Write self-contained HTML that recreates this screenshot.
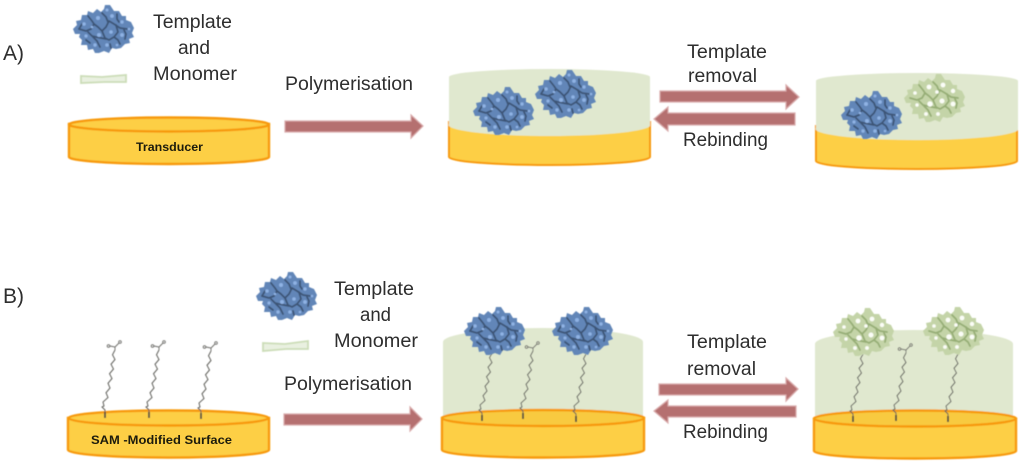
<!DOCTYPE html>
<html><head><meta charset="utf-8"><style>
html,body{margin:0;padding:0;background:#fff;width:1024px;height:465px;overflow:hidden}
svg{display:block}
text{font-family:"Liberation Sans",sans-serif;fill:#2e2e2e;font-size:19px}
</style></head><body>
<svg width="1024" height="465" viewBox="0 0 1024 465" xmlns="http://www.w3.org/2000/svg">
<defs>
<filter id="b" x="-10%" y="-10%" width="120%" height="120%"><feGaussianBlur stdDeviation="0.45"/></filter>
<filter id="t" x="-5%" y="-20%" width="110%" height="140%"><feGaussianBlur stdDeviation="0.3"/></filter>
<filter id="p" x="-10%" y="-10%" width="120%" height="120%"><feGaussianBlur stdDeviation="0.6"/></filter>
<path id="blob" d="M0 25 L4 21 L3 17 L8 16 L9 11 L14 11 L15 7 L20 9 L24 5 L28 8 L31 5 L32 1 L37 1 L41 7 L46 7 L49 12 L53 12 L53 16 L58 18 L61 24 L59 29 L61 33 L56 35 L57 39 L52 40 L48 44 L43 45 L39 44 L36 49 L31 47 L26 49 L22 49 L20 45 L15 46 L14 41 L8 41 L9 36 L6 33 L7 30 L2 30 Z"/>
<g id="pb" filter="url(#p)">
<use href="#blob" fill="#6286b8"/>
<g fill="none" stroke="#3c5476" stroke-width="1.800" stroke-linecap="round" stroke-linejoin="round">
<path d="M6 25 L13 27 L18 25 L21 20 L25 23 L29 27 L33 23 L36 17 L41 20 L47 24 L54 25"/>
<path d="M15 12 L19 17 L21 20 M29 9 L33 13 L35 18 M43 21 L45 28 L41 33 L36 36 L32 34 L29 27 M20 33 L24 37 L27 43 M15 28 L19 32 L23 33 L33 35 M41 33 L45 36 L47 40 M51 26 L53 30 L52 35 M13 36 L17 39 M37 40 L38 44 M44 10 L44 15 L46 18 M9 20 L6 25"/>
</g>
<g fill="#8fb2e4">
<circle cx="11" cy="20" r="1.800"/><circle cx="25" cy="14" r="2"/><circle cx="39" cy="12" r="1.900"/><circle cx="49" cy="18" r="1.700"/><circle cx="26" cy="31" r="2"/><circle cx="38" cy="28" r="1.800"/><circle cx="13" cy="32" r="1.600"/><circle cx="22" cy="41" r="1.700"/><circle cx="34" cy="41" r="1.800"/><circle cx="49" cy="31" r="1.900"/><circle cx="19" cy="23" r="1.300"/><circle cx="34" cy="6" r="1.500"/><circle cx="56" cy="25" r="1.300"/><circle cx="44" cy="41" r="1.300"/></g>
</g>
<g id="pg" filter="url(#p)">
<use href="#blob" fill="#c4d4a8"/>
<g fill="none" stroke="#96ae76" stroke-width="1.800" stroke-linecap="round" stroke-linejoin="round">
<path d="M6 25 L13 27 L18 25 L21 20 L25 23 L29 27 L33 23 L36 17 L41 20 L47 24 L54 25"/>
<path d="M15 12 L19 17 L21 20 M29 9 L33 13 L35 18 M43 21 L45 28 L41 33 L36 36 L32 34 L29 27 M20 33 L24 37 L27 43 M15 28 L19 32 L23 33 L33 35 M41 33 L45 36 L47 40 M51 26 L53 30 L52 35"/>
</g>
<g fill="#fbfdf7">
<circle cx="11" cy="20" r="1.800"/><circle cx="25" cy="14" r="2.400"/><circle cx="39" cy="12" r="2.400"/><circle cx="49" cy="18" r="2.200"/><circle cx="26" cy="31" r="2.700"/><circle cx="38" cy="28" r="2.500"/><circle cx="13" cy="32" r="1.700"/><circle cx="22" cy="41" r="1.900"/><circle cx="34" cy="41" r="1.900"/><circle cx="49" cy="31" r="2.400"/><circle cx="33" cy="19" r="1.800"/></g>
</g>
<g id="tail" fill="none">
<path d="M12 0 L9.500 4.750 L12 9.500 L8 14.250 L10.500 19 L6.500 23.750 L9 28.500 L5 33.250 L7 38 L3 42.750 L5 47.500 L0 52 L1 56 L-1 57 L2 60 L2 62" stroke="#62625d" stroke-width="1"/>
<path d="M2 62 V68" stroke="#4c4c45" stroke-width="1.800"/>
</g>
<g id="chain" fill="none" stroke="#6c6c68" stroke-width=".9">
<use href="#tail"/>
<path d="M12 0 L12 -3 L7 -4 M12 -3 L16 -7"/>
<circle cx="5.500" cy="-4" r="1.300"/><circle cx="17" cy="-8" r="1.300"/>
</g>
</defs>

<g filter="url(#b)">
<!-- A disk 1 -->
<path d="M69 124 V157 A100 7 0 0 0 269 157 V124 Z" fill="#fdcf45" stroke="#f79a0c" stroke-width="2.400"/>
<ellipse cx="169" cy="124.500" rx="100" ry="7" fill="#fdcf45" stroke="#f79a0c" stroke-width="2.400"/>

<!-- A monomer -->
<path d="M81 76 L102 77 L126 75 V82 L104 82 L81 83 Z" fill="#e9f0e0" stroke="#ccddb8" stroke-width="1.800"/>

<!-- A disk 2 -->
<path d="M449 122 V157 A100.500 8 0 0 0 650 157 V122 Z" fill="#fdcf45" stroke="#f79a0c" stroke-width="2"/>
<path d="M449 77 A100.500 8 0 0 1 650 77 V126 A100.500 11 0 0 1 449 124 Z" fill="#e0e8cf"/>

<!-- A disk 3 -->
<path d="M816 126 V161 A100.500 8 0 0 0 1017 161 V126 Z" fill="#fdcf45" stroke="#f79a0c" stroke-width="2"/>
<path d="M816 81 A100.500 8 0 0 1 1018 81 V130 A100.500 11 0 0 1 816 128 Z" fill="#e0e8cf"/>

<!-- B disk 1 -->
<path d="M68 418 V450 A100 7.500 0 0 0 269 450 V418 Z" fill="#fdcf45" stroke="#f79a0c" stroke-width="2.400"/>
<ellipse cx="168.500" cy="418" rx="100" ry="7.500" fill="#fdcf45" stroke="#f79a0c" stroke-width="2.400"/>
<use href="#chain" transform="translate(103 350)"/>
<use href="#chain" transform="translate(147 350)"/>
<use href="#chain" transform="translate(199 351)"/>
<path d="M263 343 L285 344 L308 341 V349 L286 349 L263 351 Z" fill="#e9f0e0" stroke="#ccddb8" stroke-width="1.800"/>

<!-- B disk 2 -->
<path d="M443 342 A100 14 0 0 1 643 342 V420 H443 Z" fill="#e0e8cf"/>
<path d="M442 418 V450 A101 7.500 0 0 0 644 450 V418 Z" fill="#fdcf45" stroke="#f79a0c" stroke-width="2.400"/>
<ellipse cx="543" cy="418" rx="101" ry="8" fill="#f8ca3f" stroke="#f79a0c" stroke-width="2.400"/>
<use href="#tail" transform="translate(480 353)"/>
<use href="#chain" transform="translate(521 351)"/>
<use href="#tail" transform="translate(574 354)"/>

<!-- B disk 3 -->
<path d="M815 344 A99 14 0 0 1 1013 344 V420 H815 Z" fill="#e0e8cf"/>
<path d="M814 419 V451 A101 7.500 0 0 0 1016 451 V419 Z" fill="#fdcf45" stroke="#f79a0c" stroke-width="2.400"/>
<ellipse cx="915" cy="418.500" rx="101" ry="8" fill="#f8ca3f" stroke="#f79a0c" stroke-width="2.400"/>
<use href="#tail" transform="translate(851 354)"/>
<use href="#chain" transform="translate(894 353)"/>
<use href="#tail" transform="translate(946 354)"/>

<!-- arrows -->
<g fill="#b56f70" stroke="#d9abab" stroke-width="1.200">
<path d="M285 121 H411 V115 L423 126 L411 138 V132 H285 Z"/>
<path d="M660 91 H786 V85 L799 97 L786 109 V102 H660 Z"/>
<path d="M795 113 H668 V107 L654 119 L668 131 V125 H795 Z"/>
<path d="M284 414 H410 V407 L422 419 L410 431 V425 H284 Z"/>
<path d="M659 384 H786 V378 L798 389 L786 401 V395 H659 Z"/>
<path d="M796 406 H668 V400 L654 411 L668 423 V417 H796 Z"/>
</g>
</g>

<!-- proteins -->
<use href="#pb" transform="translate(73 4)"/>
<use href="#pb" transform="translate(473 86)"/>
<use href="#pb" transform="translate(535 69)"/>
<use href="#pb" transform="translate(841 90)"/>
<use href="#pg" transform="translate(904 73)"/>
<use href="#pb" transform="translate(256 271)"/>
<use href="#pb" transform="translate(464 306)"/>
<use href="#pb" transform="translate(552 306)"/>
<use href="#pg" transform="translate(833 307)"/>
<use href="#pg" transform="translate(923 306)"/>

<g filter="url(#t)">
<text x="3" y="60" style="font-size:21px" textLength="21" lengthAdjust="spacingAndGlyphs">A)</text>
<text x="3" y="303" style="font-size:21px" textLength="21" lengthAdjust="spacingAndGlyphs">B)</text>
<text x="153" y="28" textLength="79" lengthAdjust="spacingAndGlyphs">Template</text>
<text x="178" y="54" textLength="32" lengthAdjust="spacingAndGlyphs">and</text>
<text x="153" y="80" textLength="84" lengthAdjust="spacingAndGlyphs">Monomer</text>
<text x="285" y="90" textLength="128" lengthAdjust="spacingAndGlyphs">Polymerisation</text>
<text x="687" y="58" textLength="80" lengthAdjust="spacingAndGlyphs">Template</text>
<text x="688" y="82" textLength="69" lengthAdjust="spacingAndGlyphs">removal</text>
<text x="683" y="146" textLength="85" lengthAdjust="spacingAndGlyphs">Rebinding</text>
<text x="334" y="295" textLength="80" lengthAdjust="spacingAndGlyphs">Template</text>
<text x="360" y="321" textLength="31" lengthAdjust="spacingAndGlyphs">and</text>
<text x="334" y="347" textLength="84" lengthAdjust="spacingAndGlyphs">Monomer</text>
<text x="284" y="390" textLength="128" lengthAdjust="spacingAndGlyphs">Polymerisation</text>
<text x="687" y="348" textLength="80" lengthAdjust="spacingAndGlyphs">Template</text>
<text x="687" y="375" textLength="69" lengthAdjust="spacingAndGlyphs">removal</text>
<text x="683" y="438" textLength="85" lengthAdjust="spacingAndGlyphs">Rebinding</text>
<text x="136" y="151" style="font-size:12px;font-weight:bold;fill:#1d1a0a" textLength="67" lengthAdjust="spacingAndGlyphs">Transducer</text>
<text x="91" y="444" style="font-size:12px;font-weight:bold;fill:#1d1a0a" textLength="141" lengthAdjust="spacingAndGlyphs">SAM -Modified Surface</text>
</g>
</svg>
</body></html>
